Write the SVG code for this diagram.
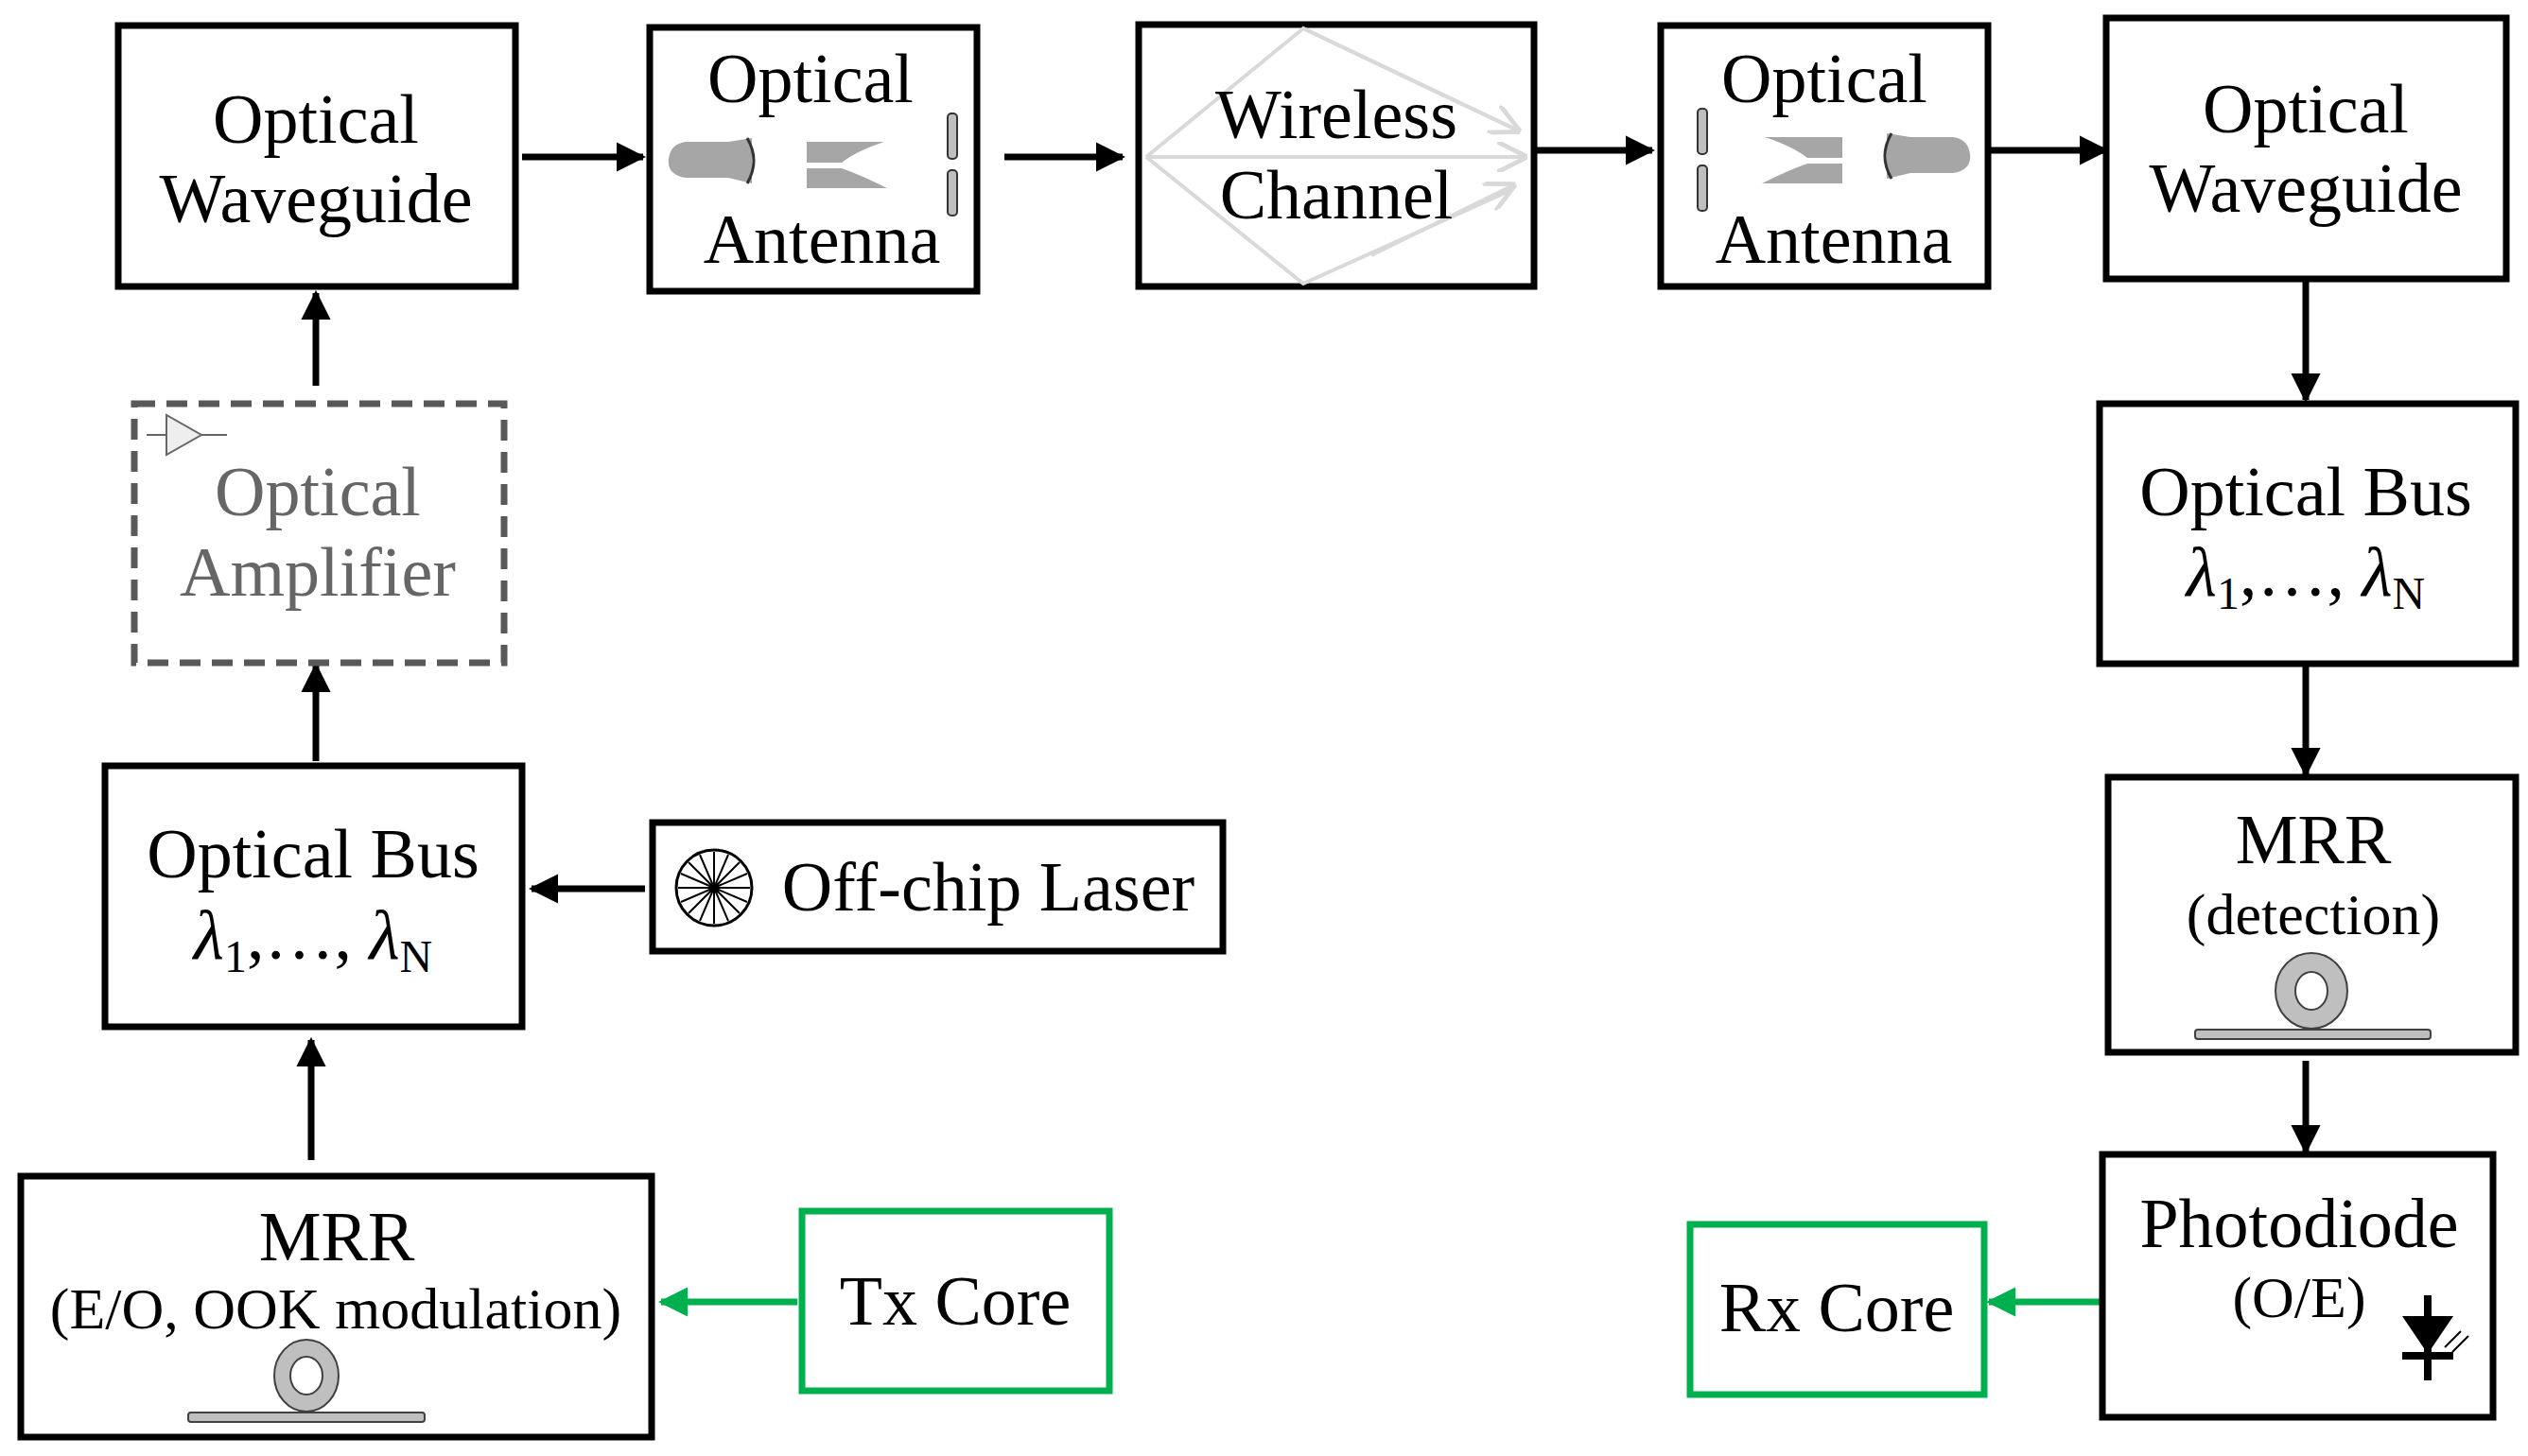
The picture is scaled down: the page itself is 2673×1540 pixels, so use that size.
<svg xmlns="http://www.w3.org/2000/svg" width="2673" height="1540" viewBox="0 0 2673 1540">
<style>
.box{fill:#fff;stroke:#000;stroke-width:7}
.gbox{fill:#fff;stroke:#00b04f;stroke-width:7}
.dbox{fill:#fff;stroke:#595959;stroke-width:7;stroke-dasharray:22,12}
text{font-family:"Liberation Serif","DejaVu Serif",serif;fill:#000;text-anchor:middle}
.t{font-size:74px}
.s{font-size:62px}
.gt{fill:#666}
.c{stroke:#000;stroke-width:7;fill:none}
.cg{stroke:#00b04f;stroke-width:7;fill:none}
.gray{fill:#a6a6a6}
.ring{fill:#bfbfbf;stroke:#404040;stroke-width:2}
</style>
<defs>
<marker id="ah" viewBox="0 0 10 10" refX="9" refY="5" markerWidth="4.5" markerHeight="4.5" orient="auto" markerUnits="strokeWidth"><path d="M0,0L10,5L0,10z" fill="#000"/></marker>
<marker id="ahg" viewBox="0 0 10 10" refX="9" refY="5" markerWidth="4.5" markerHeight="4.5" orient="auto" markerUnits="strokeWidth"><path d="M0,0L10,5L0,10z" fill="#00b04f"/></marker>
<marker id="ahl" viewBox="0 0 10 10" refX="9" refY="5" markerWidth="8" markerHeight="8" orient="auto" markerUnits="strokeWidth"><path d="M0,0L10,5L0,10" fill="none" stroke="#d9d9d9" stroke-width="1.5"/></marker>
</defs>
<g id="connectors">
<path class="c" marker-end="url(#ah)" d="M552,166H680"/>
<path class="c" marker-end="url(#ah)" d="M1062,166H1187"/>
<path class="c" marker-end="url(#ah)" d="M1624,159H1747"/>
<path class="c" marker-end="url(#ah)" d="M2104,159H2227"/>
<path class="c" marker-end="url(#ah)" d="M2438,295V423"/>
<path class="c" marker-end="url(#ah)" d="M2438,702V819"/>
<path class="c" marker-end="url(#ah)" d="M2438,1122V1218"/>
<path class="cg" marker-end="url(#ahg)" d="M2222,1377H2103"/>
<path class="cg" marker-end="url(#ahg)" d="M843,1377H699"/>
<path class="c" marker-end="url(#ah)" d="M329,1227V1100"/>
<path class="c" marker-end="url(#ah)" d="M334,805V704"/>
<path class="c" marker-end="url(#ah)" d="M334,408V310"/>
<path class="c" marker-end="url(#ah)" d="M682,940H562"/>
</g>
<g id="wg-left"><rect class="box" x="125" y="27" width="420" height="276"/>
<text class="t" x="334" y="151">Optical</text><text class="t" x="334" y="235">Waveguide</text></g>
<g id="antenna-tx"><rect class="box" x="687" y="29" width="346" height="279"/>
<text class="t" x="857" y="108">Optical</text><text class="t" x="869" y="278">Antenna</text>
<path class="gray" d="M770,150L795,146V194L770,188H725Q705,185 707,168Q709,152 725,150Z"/>
<path d="M790,146Q804,170 790,194" fill="none" stroke="#333" stroke-width="3"/>
<path class="gray" d="M853,150H935Q905,160 890,172H853Z"/><path class="gray" d="M853,178H890Q910,185 938,199H853Z"/>
<rect x="1002" y="120" width="10" height="48" rx="4" fill="#bfbfbf" stroke="#333" stroke-width="2"/><rect x="1002" y="180" width="10" height="48" rx="4" fill="#bfbfbf" stroke="#333" stroke-width="2"/></g>
<g id="wireless"><rect class="box" x="1204" y="26" width="418" height="277"/>
<g stroke="#d9d9d9" stroke-width="4" fill="none"><path d="M1212,166L1378,30L1605,138"/><path d="M1212,166L1378,300L1600,200"/><path d="M1212,166H1612"/><path d="M1378,30L1605,138" marker-end="url(#ahl)"/><path d="M1212,166H1612" marker-end="url(#ahl)"/><path d="M1450,270L1600,196" marker-end="url(#ahl)"/></g>
<text class="t" x="1413" y="146">Wireless</text><text class="t" x="1413" y="231">Channel</text></g>
<g id="antenna-rx"><rect class="box" x="1756" y="27" width="346" height="276"/>
<text class="t" x="1929" y="108">Optical</text><text class="t" x="1939" y="278">Antenna</text>
<rect x="1795" y="115" width="10" height="48" rx="4" fill="#bfbfbf" stroke="#333" stroke-width="2"/><rect x="1795" y="175" width="10" height="48" rx="4" fill="#bfbfbf" stroke="#333" stroke-width="2"/>
<path class="gray" d="M1948,145H1866Q1896,155 1911,167H1948Z"/><path class="gray" d="M1948,173H1911Q1891,180 1863,194H1948Z"/>
<path class="gray" d="M2020,145L1995,141V189L2020,183H2065Q2085,180 2083,163Q2081,147 2065,145Z"/>
<path d="M2000,141Q1986,165 2000,189" fill="none" stroke="#333" stroke-width="3"/></g>
<g id="wg-right"><rect class="box" x="2227" y="19" width="423" height="276"/>
<text class="t" x="2438" y="140">Optical</text><text class="t" x="2438" y="224">Waveguide</text></g>
<g id="amplifier"><rect class="dbox" x="142" y="427" width="391" height="274"/>
<path d="M176,439V481L213,460Z" fill="#eee" stroke="#666" stroke-width="2"/><path d="M155,460H176M213,460H240" stroke="#666" stroke-width="2"/>
<text class="t gt" x="336" y="545">Optical</text><text class="t gt" x="336" y="630">Amplifier</text></g>
<g id="bus-left"><rect class="box" x="111" y="810" width="441" height="276"/>
<text class="t" x="331" y="928">Optical Bus</text>
<text class="t" x="331" y="1014" font-style="italic">λ<tspan font-style="normal" font-size="48" dy="14">1</tspan><tspan font-style="normal" dy="-14">,…, </tspan>λ<tspan font-style="normal" font-size="48" dy="14">N</tspan></text></g>
<g id="laser"><rect class="box" x="690" y="870" width="603" height="136"/>
<circle cx="755" cy="939" r="40" fill="none" stroke="#000" stroke-width="3"/>
<g stroke="#000" stroke-width="2"><path d="M717,939H793M755,901V977M728,912L782,966M728,966L782,912M740,904L770,974M740,974L770,904M720,924L790,954M720,954L790,924"/></g><circle cx="755" cy="939" r="5"/>
<text class="t" x="1045" y="963">Off-chip Laser</text></g>
<g id="mrr-tx"><rect class="box" x="22" y="1244" width="667" height="276"/>
<text class="t" x="356" y="1333">MRR</text><text class="s" x="355" y="1405">(E/O, OOK modulation)</text>
<rect x="199" y="1494" width="250" height="10" rx="3" class="ring"/>
<path class="ring" fill-rule="evenodd" d="M290,1455a34,38 0 1,0 68,0a34,38 0 1,0 -68,0ZM307,1455a17,20 0 1,0 34,0a17,20 0 1,0 -34,0Z"/></g>
<g id="tx-core"><rect class="gbox" x="848" y="1281" width="325" height="190"/>
<text class="t" x="1010" y="1401">Tx Core</text></g>
<g id="bus-right"><rect class="box" x="2220" y="427" width="440" height="275"/>
<text class="t" x="2438" y="545">Optical Bus</text>
<text class="t" x="2438" y="630" font-style="italic">λ<tspan font-style="normal" font-size="48" dy="14">1</tspan><tspan font-style="normal" dy="-14">,…, </tspan>λ<tspan font-style="normal" font-size="48" dy="14">N</tspan></text></g>
<g id="mrr-rx"><rect class="box" x="2229" y="822" width="431" height="291"/>
<text class="t" x="2446" y="913">MRR</text><text class="s" x="2446" y="988">(detection)</text>
<rect x="2321" y="1089" width="249" height="10" rx="3" class="ring"/>
<path class="ring" fill-rule="evenodd" d="M2406,1048a38,40 0 1,0 76,0a38,40 0 1,0 -76,0ZM2427,1048a17,20 0 1,0 34,0a17,20 0 1,0 -34,0Z"/></g>
<g id="photodiode"><rect class="box" x="2223" y="1221" width="413" height="278"/>
<text class="t" x="2431" y="1319">Photodiode</text><text class="s" x="2431" y="1393">(O/E)</text>
<path d="M2567,1370V1460M2540,1434H2594" stroke="#000" stroke-width="8"/><path d="M2540,1392H2594L2567,1432Z"/>
<path d="M2585,1425L2602,1408M2593,1430L2610,1413" stroke="#000" stroke-width="2"/></g>
<g id="rx-core"><rect class="gbox" x="1787" y="1295" width="311" height="180"/>
<text class="t" x="1942" y="1408">Rx Core</text></g>
</svg>
